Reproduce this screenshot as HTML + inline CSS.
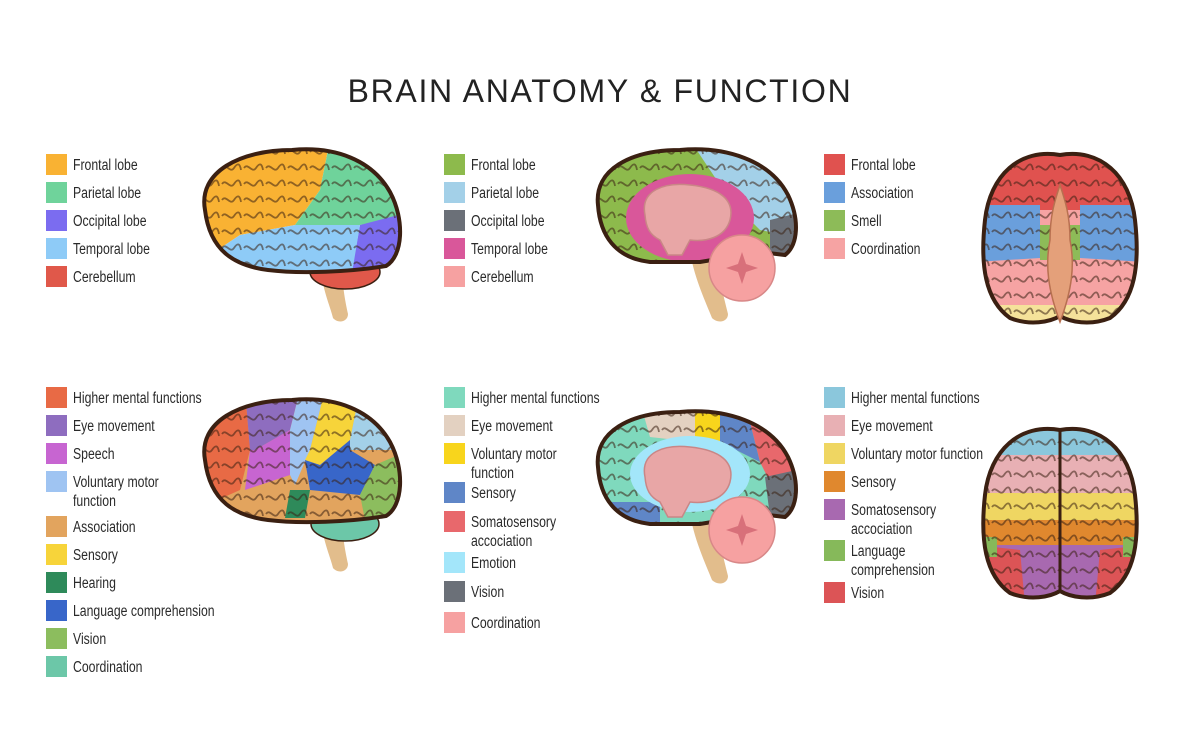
<!DOCTYPE html>
<html><head><meta charset="utf-8"><style>
body{margin:0;width:1200px;height:750px;background:#fff;position:relative;overflow:hidden;font-family:"Liberation Sans",sans-serif}
.t{position:absolute;left:0;width:1200px;top:73px;text-align:center;font-family:"Liberation Sans",sans-serif;font-size:32px;letter-spacing:1.7px;color:#222}
.s{position:absolute;width:21px;height:21px}
.l{position:absolute;font-size:15.5px;color:#2a2a2a;line-height:19px;white-space:nowrap;transform:scaleX(.79);transform-origin:0 0}
svg{position:absolute;left:0;top:0}
</style></head><body>
<div class="t">BRAIN ANATOMY &amp; FUNCTION</div>

<div class="s" style="left:46px;top:154px;background:#f9b233"></div><div class="l" style="left:73px;top:156px">Frontal lobe</div>
<div class="s" style="left:46px;top:182px;background:#6fd39b"></div><div class="l" style="left:73px;top:184px">Parietal lobe</div>
<div class="s" style="left:46px;top:210px;background:#7b6cf0"></div><div class="l" style="left:73px;top:212px">Occipital lobe</div>
<div class="s" style="left:46px;top:238px;background:#8ecbf7"></div><div class="l" style="left:73px;top:240px">Temporal lobe</div>
<div class="s" style="left:46px;top:266px;background:#e0584a"></div><div class="l" style="left:73px;top:268px">Cerebellum</div>

<div class="s" style="left:444px;top:154px;background:#8dba4c"></div><div class="l" style="left:471px;top:156px">Frontal lobe</div>
<div class="s" style="left:444px;top:182px;background:#a3d0e8"></div><div class="l" style="left:471px;top:184px">Parietal lobe</div>
<div class="s" style="left:444px;top:210px;background:#6b7078"></div><div class="l" style="left:471px;top:212px">Occipital lobe</div>
<div class="s" style="left:444px;top:238px;background:#d9579a"></div><div class="l" style="left:471px;top:240px">Temporal lobe</div>
<div class="s" style="left:444px;top:266px;background:#f6a1a1"></div><div class="l" style="left:471px;top:268px">Cerebellum</div>

<div class="s" style="left:824px;top:154px;background:#e0524f"></div><div class="l" style="left:851px;top:156px">Frontal lobe</div>
<div class="s" style="left:824px;top:182px;background:#6a9fdc"></div><div class="l" style="left:851px;top:184px">Association</div>
<div class="s" style="left:824px;top:210px;background:#8dbb58"></div><div class="l" style="left:851px;top:212px">Smell</div>
<div class="s" style="left:824px;top:238px;background:#f6a3a3"></div><div class="l" style="left:851px;top:240px">Coordination</div>

<div class="s" style="left:46px;top:387px;background:#e86a45"></div><div class="l" style="left:73px;top:389px">Higher mental functions</div>
<div class="s" style="left:46px;top:415px;background:#8e6dbf"></div><div class="l" style="left:73px;top:417px">Eye movement</div>
<div class="s" style="left:46px;top:443px;background:#c765d1"></div><div class="l" style="left:73px;top:445px">Speech</div>
<div class="s" style="left:46px;top:471px;background:#9fc4f2"></div><div class="l" style="left:73px;top:473px">Voluntary motor<br>function</div>
<div class="s" style="left:46px;top:516px;background:#e2a45e"></div><div class="l" style="left:73px;top:518px">Association</div>
<div class="s" style="left:46px;top:544px;background:#f7d43a"></div><div class="l" style="left:73px;top:546px">Sensory</div>
<div class="s" style="left:46px;top:572px;background:#2e8a5a"></div><div class="l" style="left:73px;top:574px">Hearing</div>
<div class="s" style="left:46px;top:600px;background:#3866c9"></div><div class="l" style="left:73px;top:602px">Language comprehension</div>
<div class="s" style="left:46px;top:628px;background:#8cbd5e"></div><div class="l" style="left:73px;top:630px">Vision</div>
<div class="s" style="left:46px;top:656px;background:#6cc7a8"></div><div class="l" style="left:73px;top:658px">Coordination</div>

<div class="s" style="left:444px;top:387px;background:#7fd9bd"></div><div class="l" style="left:471px;top:389px">Higher mental functions</div>
<div class="s" style="left:444px;top:415px;background:#e3d1c1"></div><div class="l" style="left:471px;top:417px">Eye movement</div>
<div class="s" style="left:444px;top:443px;background:#f8d51c"></div><div class="l" style="left:471px;top:445px">Voluntary motor<br>function</div>
<div class="s" style="left:444px;top:482px;background:#5f86c7"></div><div class="l" style="left:471px;top:484px">Sensory</div>
<div class="s" style="left:444px;top:511px;background:#e8686c"></div><div class="l" style="left:471px;top:513px">Somatosensory<br>accociation</div>
<div class="s" style="left:444px;top:552px;background:#a3e6fa"></div><div class="l" style="left:471px;top:554px">Emotion</div>
<div class="s" style="left:444px;top:581px;background:#6b7078"></div><div class="l" style="left:471px;top:583px">Vision</div>
<div class="s" style="left:444px;top:612px;background:#f6a1a1"></div><div class="l" style="left:471px;top:614px">Coordination</div>

<div class="s" style="left:824px;top:387px;background:#8bc7dc"></div><div class="l" style="left:851px;top:389px">Higher mental functions</div>
<div class="s" style="left:824px;top:415px;background:#e8b0b4"></div><div class="l" style="left:851px;top:417px">Eye movement</div>
<div class="s" style="left:824px;top:443px;background:#efd662"></div><div class="l" style="left:851px;top:445px">Voluntary motor function</div>
<div class="s" style="left:824px;top:471px;background:#e0882e"></div><div class="l" style="left:851px;top:473px">Sensory</div>
<div class="s" style="left:824px;top:499px;background:#a869b0"></div><div class="l" style="left:851px;top:501px">Somatosensory<br>accociation</div>
<div class="s" style="left:824px;top:540px;background:#86b95a"></div><div class="l" style="left:851px;top:542px">Language<br>comprehension</div>
<div class="s" style="left:824px;top:582px;background:#dc5456"></div><div class="l" style="left:851px;top:584px">Vision</div>

<svg width="1200" height="750" viewBox="0 0 1200 750">
<defs>
<clipPath id="lat"><path d="M205,210 C198,172 240,150 292,150 C335,146 372,160 390,192 C405,220 403,256 386,266 C350,272 300,274 268,270 C236,266 210,252 205,210 Z"/></clipPath>
<clipPath id="med"><path d="M598,205 C594,170 630,150 680,150 C725,146 770,160 788,195 C800,220 798,245 785,255 L760,252 L700,262 L650,262 C615,258 600,235 598,205 Z"/></clipPath>
<clipPath id="top"><path d="M1060,155 C1020,148 990,175 985,220 C980,265 985,300 1010,318 C1030,326 1050,322 1060,316 C1070,322 1090,326 1110,318 C1135,300 1140,265 1135,220 C1130,175 1100,148 1060,155 Z"/></clipPath>
<pattern id="sq" width="22" height="16" patternUnits="userSpaceOnUse"><path d="M2,8 C6,2 10,14 14,8 S20,4 21,10" fill="none" stroke="#3b2012" stroke-width="1.8" opacity=".55"/></pattern>
</defs>
<g>
<path d="M320,262 C322,290 330,305 333,318 C338,324 348,322 348,314 C345,300 342,285 342,262 Z" fill="#e2bd8c"/>
<ellipse cx="345" cy="272" rx="35" ry="17" fill="#e0584a" stroke="#3b2012" stroke-width="1.5"/>
<g clip-path="url(#lat)">
<polygon points="195,140 330,140 320,190 295,225 240,235 195,265" fill="#f9b233"/>
<polygon points="330,140 410,140 410,215 360,225 300,230 295,225 320,190" fill="#6fd39b"/>
<polygon points="360,225 410,212 410,285 350,280" fill="#7b6cf0"/>
<polygon points="240,235 295,225 360,225 350,285 195,285 195,265" fill="#8ecbf7"/>
<rect x="195" y="140" width="215" height="145" fill="url(#sq)"/>
</g>
<path d="M205,210 C198,172 240,150 292,150 C335,146 372,160 390,192 C405,220 403,256 386,266 C350,272 300,274 268,270 C236,266 210,252 205,210 Z" fill="none" stroke="#3b2012" stroke-width="4"/>
</g>
<g transform="translate(0,250)">
<path d="M320,262 C322,290 330,305 333,318 C338,324 348,322 348,314 C345,300 342,285 342,262 Z" fill="#e2bd8c"/>
<ellipse cx="345" cy="274" rx="34" ry="17" fill="#6cc7a8" stroke="#3b2012" stroke-width="1.5"/>
<g clip-path="url(#lat)">
<rect x="195" y="140" width="215" height="145" fill="#e2a45e"/>
<polygon points="195,140 245,140 250,200 240,240 195,260" fill="#e86a45"/>
<polygon points="245,140 300,140 290,180 255,200 250,200" fill="#8e6dbf"/>
<polygon points="250,200 255,200 290,180 290,225 245,240" fill="#c765d1"/>
<polygon points="300,140 325,140 310,200 295,235 290,225 290,180" fill="#9fc4f2"/>
<polygon points="325,140 360,140 350,190 320,215 305,210 310,200" fill="#f7d43a"/>
<polygon points="360,140 410,140 410,200 350,200 350,190" fill="#a3d0e8"/>
<polygon points="305,210 320,215 350,190 350,200 375,215 360,245 310,240" fill="#3866c9"/>
<polygon points="375,215 410,200 410,285 365,270 360,245" fill="#8cbd5e"/>
<polygon points="290,240 310,240 305,268 285,268" fill="#2e8a5a"/>
<rect x="195" y="140" width="215" height="145" fill="url(#sq)"/>
</g>
<path d="M205,210 C198,172 240,150 292,150 C335,146 372,160 390,192 C405,220 403,256 386,266 C350,272 300,274 268,270 C236,266 210,252 205,210 Z" fill="none" stroke="#3b2012" stroke-width="4"/>
</g>
<g>
<path d="M688,235 C690,270 705,300 712,318 C718,324 728,322 728,314 C722,290 715,262 712,235 Z" fill="#e2bd8c"/>
<g clip-path="url(#med)">
<rect x="590" y="140" width="220" height="130" fill="#8dba4c"/>
<polygon points="690,140 810,140 810,240 760,230 730,200" fill="#a3d0e8"/>
<polygon points="770,220 810,210 810,270 770,260" fill="#6b7078"/>
<rect x="590" y="140" width="220" height="130" fill="url(#sq)"/>
<ellipse cx="690" cy="218" rx="64" ry="44" fill="#d9579a"/>
</g>
<path d="M598,205 C594,170 630,150 680,150 C725,146 770,160 788,195 C800,220 798,245 785,255 L760,252 L700,262 L650,262 C615,258 600,235 598,205 Z" fill="none" stroke="#3b2012" stroke-width="4"/>
<path d="M645,215 C640,190 665,182 690,185 C720,188 735,200 730,220 C725,238 705,242 690,240 L682,255 L668,255 L660,240 C650,235 646,228 645,215 Z" fill="#e8a6a6" stroke="#c98686" stroke-width="1.5"/>
<circle cx="742" cy="268" r="33" fill="#f6a1a1" stroke="#d88888" stroke-width="1.5"/>
<path d="M742,252 L746,264 L758,268 L746,272 L742,284 L738,272 L726,268 L738,264 Z" fill="#d8707a"/>
</g>
<g transform="translate(0,262)">
<path d="M688,235 C690,270 705,300 712,318 C718,324 728,322 728,314 C722,290 715,262 712,235 Z" fill="#e2bd8c"/>
<g clip-path="url(#med)">
<rect x="590" y="140" width="220" height="130" fill="#7fd9bd"/>
<polygon points="640,140 700,140 695,180 650,175" fill="#e3d1c1"/>
<polygon points="695,140 725,140 720,180 695,180" fill="#f8d51c"/>
<polygon points="720,140 745,140 760,200 740,190 720,180" fill="#5f86c7"/>
<polygon points="745,140 810,140 810,215 770,220 760,200" fill="#e8686c"/>
<polygon points="765,215 810,205 810,270 770,255" fill="#6b7078"/>
<polygon points="590,240 660,240 660,270 590,270" fill="#5f86c7"/>
<rect x="590" y="140" width="220" height="130" fill="url(#sq)"/>
<ellipse cx="690" cy="212" rx="60" ry="38" fill="#a3e6fa"/>
</g>
<path d="M598,205 C594,170 630,150 680,150 C725,146 770,160 788,195 C800,220 798,245 785,255 L760,252 L700,262 L650,262 C615,258 600,235 598,205 Z" fill="none" stroke="#3b2012" stroke-width="4"/>
<path d="M645,215 C640,190 665,182 690,185 C720,188 735,200 730,220 C725,238 705,242 690,240 L682,255 L668,255 L660,240 C650,235 646,228 645,215 Z" fill="#e8a6a6" stroke="#c98686" stroke-width="1.5"/>
<circle cx="742" cy="268" r="33" fill="#f6a1a1" stroke="#d88888" stroke-width="1.5"/>
<path d="M742,252 L746,264 L758,268 L746,272 L742,284 L738,272 L726,268 L738,264 Z" fill="#d8707a"/>
</g>
<g>
<g clip-path="url(#top)">
<rect x="975" y="145" width="170" height="185" fill="#f6a3a3"/>
<rect x="975" y="145" width="170" height="65" fill="#e0524f"/>
<polygon points="975,205 1040,205 1040,258 975,262" fill="#6a9fdc"/>
<polygon points="1080,205 1145,205 1145,262 1080,258" fill="#6a9fdc"/>
<rect x="1040" y="225" width="40" height="35" fill="#8dbb58"/>
<rect x="975" y="305" width="170" height="25" fill="#f5e29a"/>
<rect x="975" y="145" width="170" height="185" fill="url(#sq)"/>
</g>
<path d="M1060,155 C1020,148 990,175 985,220 C980,265 985,300 1010,318 C1030,326 1050,322 1060,316 C1070,322 1090,326 1110,318 C1135,300 1140,265 1135,220 C1130,175 1100,148 1060,155 Z" fill="none" stroke="#3b2012" stroke-width="4"/>
<path d="M1060,185 C1055,200 1050,215 1050,240 C1045,265 1048,290 1060,322 C1072,290 1075,265 1070,240 C1070,215 1065,200 1060,185 Z" fill="#e4a07a" stroke="#b87050" stroke-width="1.5"/>
</g>
<g transform="translate(0,275)">
<g clip-path="url(#top)">
<rect x="975" y="145" width="170" height="35" fill="#8bc7dc"/>
<rect x="975" y="180" width="170" height="38" fill="#e8b0b4"/>
<rect x="975" y="218" width="170" height="27" fill="#efd662"/>
<rect x="975" y="245" width="170" height="25" fill="#e0882e"/>
<rect x="975" y="270" width="170" height="60" fill="#a869b0"/>
<polygon points="975,270 1020,275 1025,330 975,330" fill="#dc5456"/>
<polygon points="1145,270 1100,275 1095,330 1145,330" fill="#dc5456"/>
<rect x="975" y="262" width="22" height="20" fill="#86b95a"/>
<rect x="1123" y="262" width="22" height="20" fill="#86b95a"/>
<rect x="975" y="145" width="170" height="185" fill="url(#sq)"/>
</g>
<path d="M1060,155 C1020,148 990,175 985,220 C980,265 985,300 1010,318 C1030,326 1050,322 1060,316 C1070,322 1090,326 1110,318 C1135,300 1140,265 1135,220 C1130,175 1100,148 1060,155 Z" fill="none" stroke="#3b2012" stroke-width="4"/>
<path d="M1060,155 L1060,316" stroke="#3b2012" stroke-width="3"/>
</g>
</svg>
</body></html>
